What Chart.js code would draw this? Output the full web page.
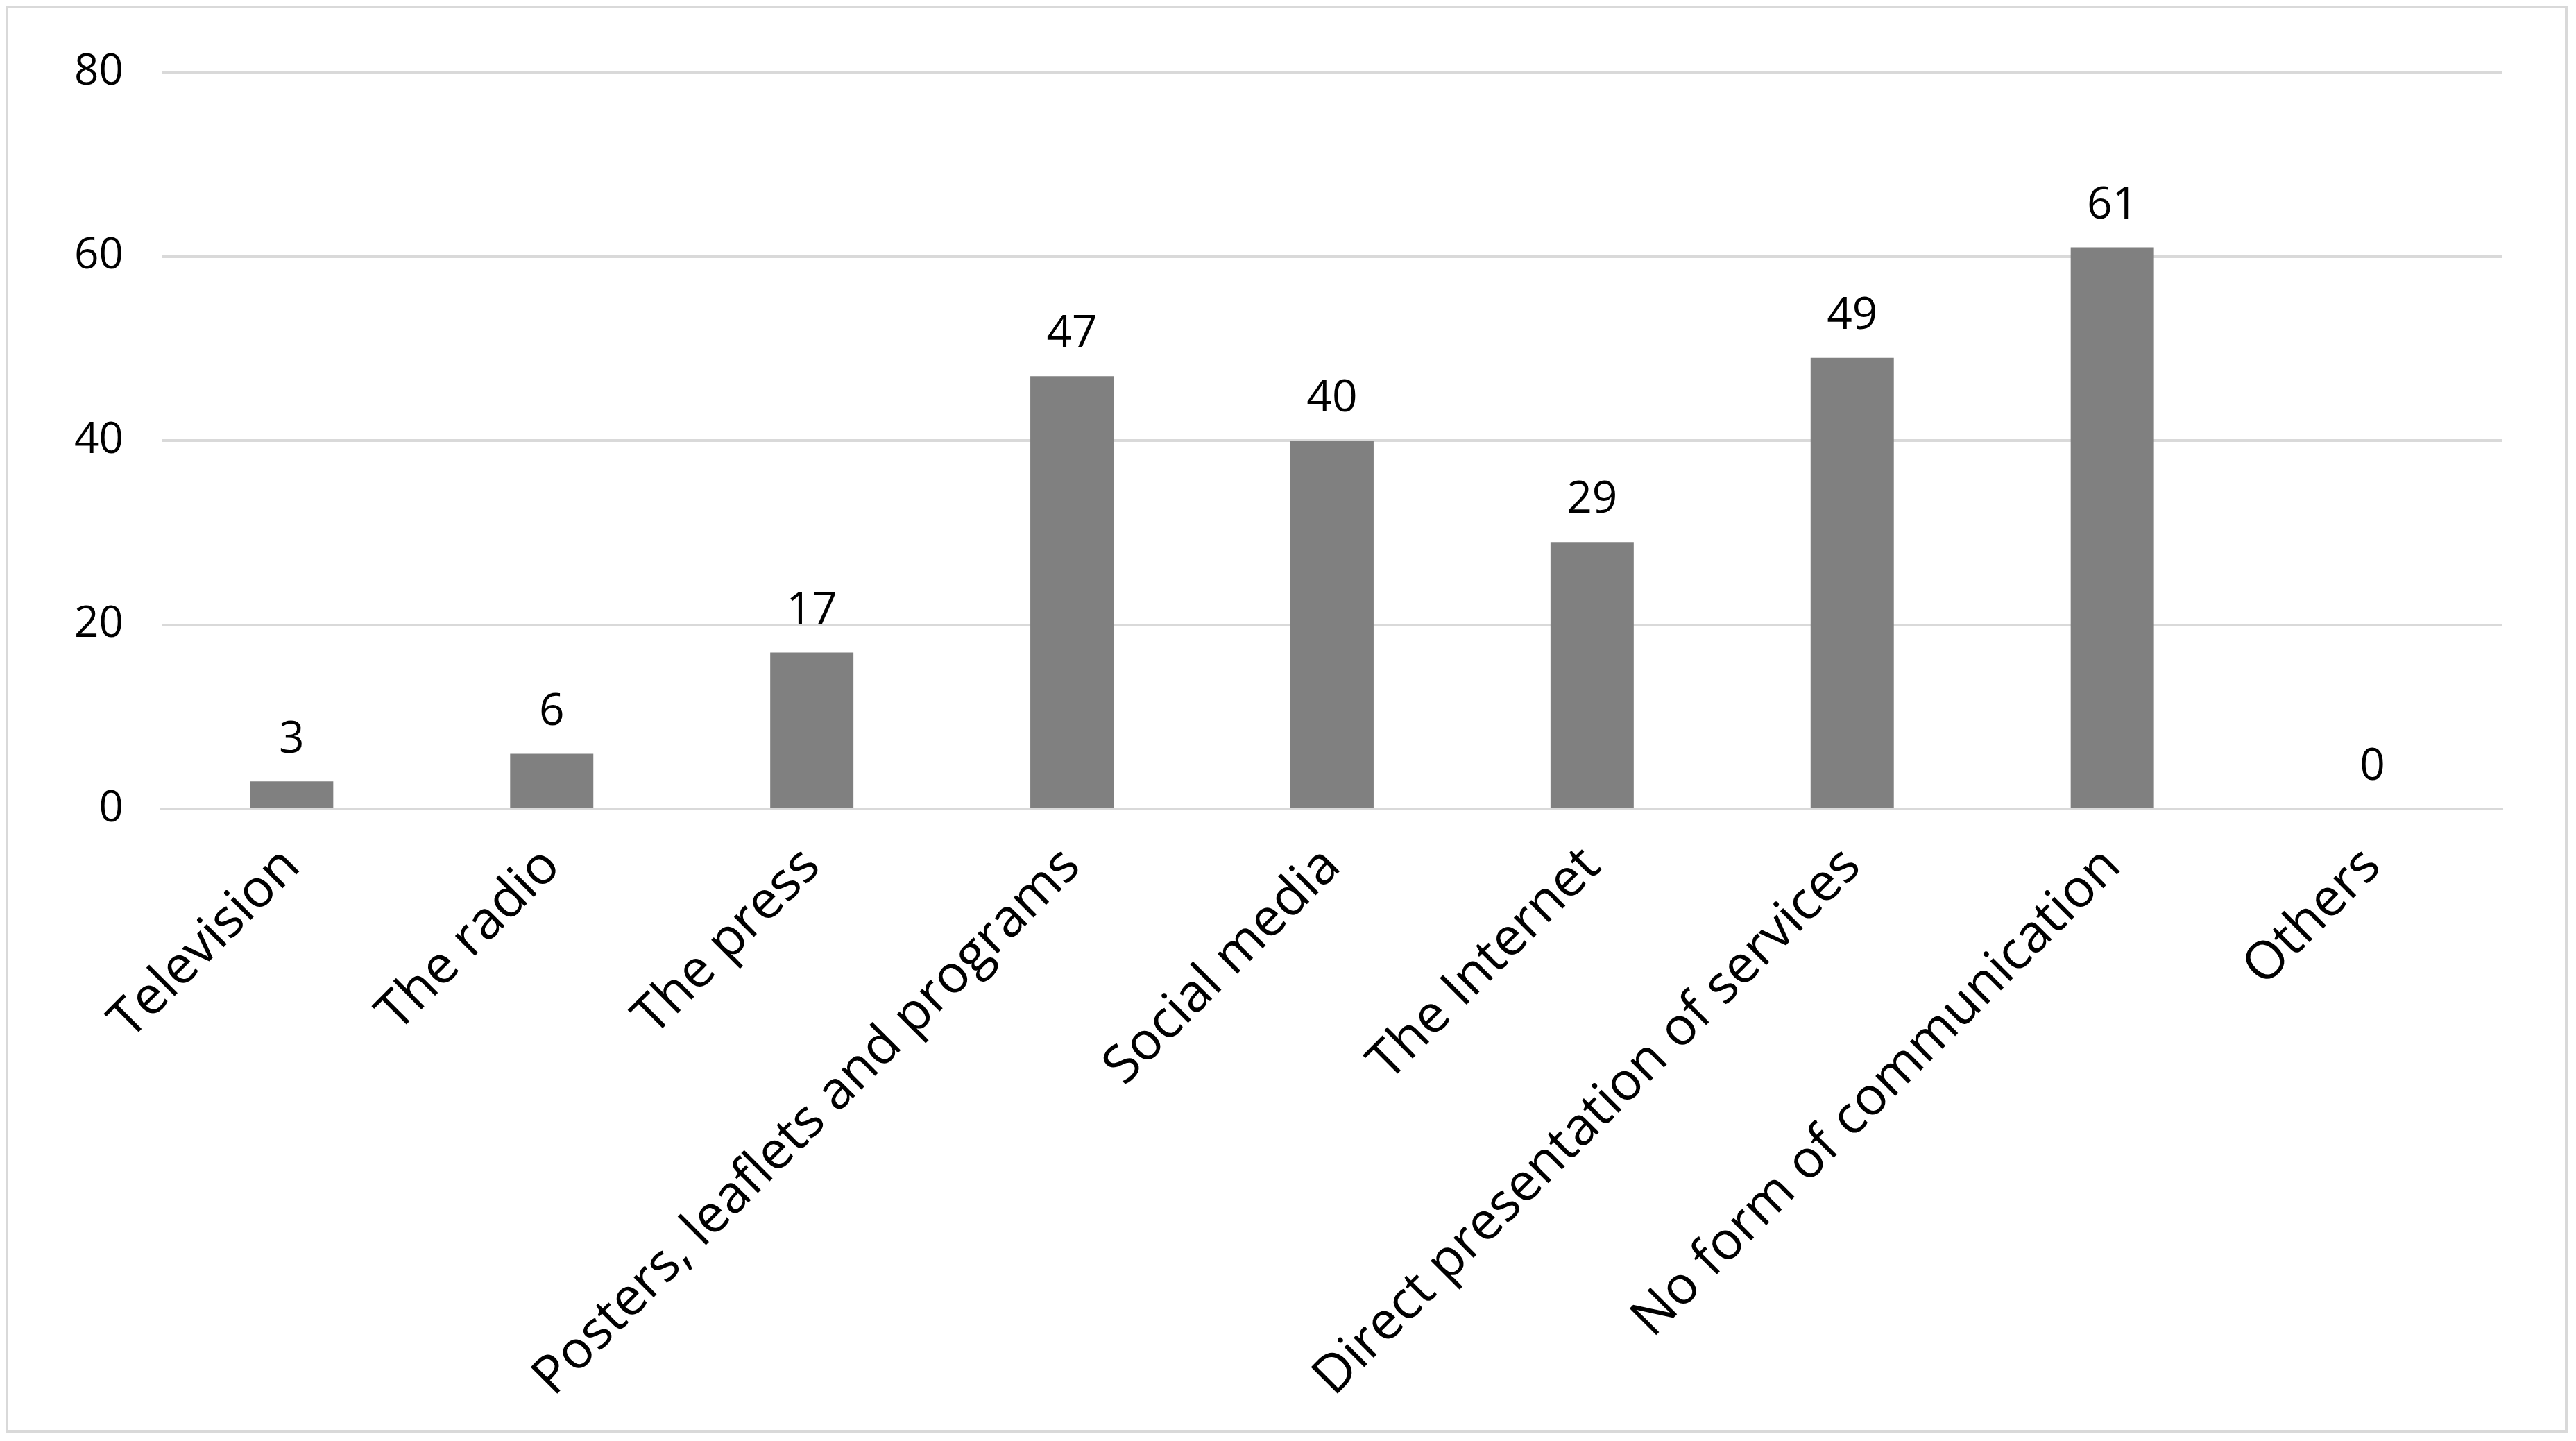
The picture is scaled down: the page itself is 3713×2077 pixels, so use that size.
<!DOCTYPE html>
<html>
<head>
<script src="https://cdn.jsdelivr.net/npm/chart.js@4"></script>
<style>
  body { margin: 0; background: #fff; }
  #wrap { position: absolute; left: 8px; top: 8px; width: 3693px; height: 2057px; border: 4px solid #d9d9d9; box-sizing: border-box; }
</style>
</head>
<body>
<div id="wrap"><canvas id="c"></canvas></div>
<script>
const categories = ['Television', 'The radio', 'The press', 'Posters, leaflets and programs', 'Social media',
    'The Internet', 'Direct presentation of services', 'No form of communication', 'Others'];
const values = [3, 6, 17, 47, 40, 29, 49, 61, 0];

const font = '"Open Sans", "Liberation Sans", sans-serif';

// value labels above each bar
const barLabels = {
    id: 'barLabels',
    afterDatasetsDraw(chart) {
        const ctx = chart.ctx;
        const meta = chart.getDatasetMeta(0);
        ctx.save();
        ctx.fillStyle = '#000';
        ctx.font = '64px ' + font;
        ctx.textAlign = 'center';
        ctx.textBaseline = 'bottom';
        meta.data.forEach((bar, i) => {
            ctx.fillText(values[i], bar.x, bar.y - 28);
        });
        ctx.restore();
    }
};

new Chart(document.getElementById('c'), {
    type: 'bar',
    plugins: [barLabels],
    data: {
        labels: categories,
        datasets: [{
            data: values,
            backgroundColor: '#808080',
            barPercentage: 0.32,
            categoryPercentage: 1
        }]
    },
    options: {
        responsive: true,
        maintainAspectRatio: false,
        animation: false,
        layout: { padding: { top: 80, right: 90, left: 40, bottom: 0 } },
        plugins: { legend: { display: false }, tooltip: { enabled: false } },
        scales: {
            y: {
                min: 0, max: 80,
                ticks: { stepSize: 20, color: '#000', font: { size: 62, family: font }, padding: 55 },
                grid: { color: '#d9d9d9', lineWidth: 4, drawTicks: false },
                border: { display: false }
            },
            x: {
                ticks: { color: '#000', font: { size: 76, family: font }, minRotation: 45, maxRotation: 45, padding: 30 },
                grid: { display: false },
                border: { color: '#d9d9d9', width: 4 }
            }
        }
    }
});
</script>
</body>
</html>
